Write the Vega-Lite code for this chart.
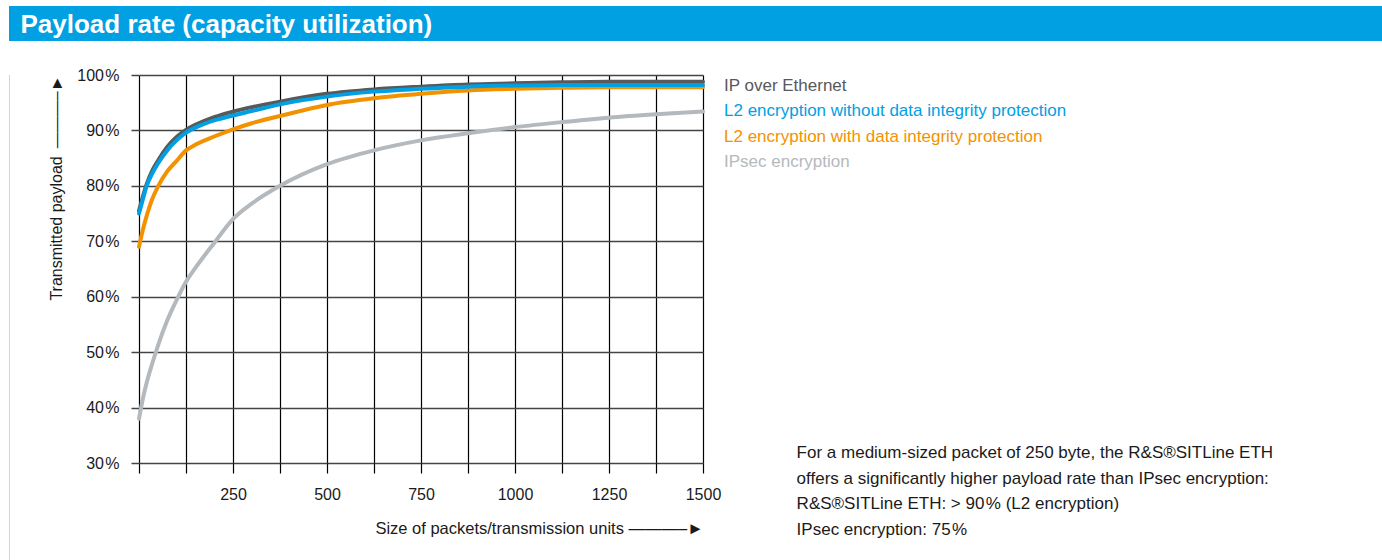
{
  "$schema": "https://vega.github.io/schema/vega-lite/v6.json",
  "padding": {"left": 9, "top": 6, "right": 0, "bottom": 0},
  "background": "white",
  "spacing": 26,
  "config": {
    "view": {"stroke": null},
    "font": "Liberation Sans"
  },
  "vconcat": [
    {
      "width": 1373,
      "height": 35,
      "data": {"values": [{"label": "Payload rate (capacity utilization)"}]},
      "layer": [
        {"mark": {"type": "rect", "color": "#00a0e3"}, "encoding": {}},
        {
          "mark": {"type": "text", "align": "left", "baseline": "middle", "dx": -675, "dy": 1, "font": "Liberation Sans", "fontWeight": "bold", "fontSize": 26, "color": "white"},
          "encoding": {"text": {"field": "label"}}
        }
      ]
    },
    {
      "spacing": 38,
      "hconcat": [
        {
          "width": 1,
          "height": 495,
          "data": {"values": [{"edge": "left"}]},
          "mark": {"type": "rect", "color": "#d3d7db"},
          "encoding": {}
        },
        {
          "width": 564,
          "height": 388,
          "layer": [
            {
              "data": {"values": [
                {"series": "IPsec encryption", "size": 0, "payload": 38.0},
                {"series": "IPsec encryption", "size": 10, "payload": 41.5},
                {"series": "IPsec encryption", "size": 20, "payload": 44.4},
                {"series": "IPsec encryption", "size": 35, "payload": 47.9},
                {"series": "IPsec encryption", "size": 50, "payload": 51.1},
                {"series": "IPsec encryption", "size": 75, "payload": 55.7},
                {"series": "IPsec encryption", "size": 100, "payload": 59.4},
                {"series": "IPsec encryption", "size": 125, "payload": 62.7},
                {"series": "IPsec encryption", "size": 150, "payload": 65.2},
                {"series": "IPsec encryption", "size": 200, "payload": 69.7},
                {"series": "IPsec encryption", "size": 250, "payload": 74.0},
                {"series": "IPsec encryption", "size": 300, "payload": 76.8},
                {"series": "IPsec encryption", "size": 375, "payload": 80.0},
                {"series": "IPsec encryption", "size": 500, "payload": 83.9},
                {"series": "IPsec encryption", "size": 625, "payload": 86.4},
                {"series": "IPsec encryption", "size": 750, "payload": 88.2},
                {"series": "IPsec encryption", "size": 875, "payload": 89.5},
                {"series": "IPsec encryption", "size": 1000, "payload": 90.6},
                {"series": "IPsec encryption", "size": 1125, "payload": 91.5},
                {"series": "IPsec encryption", "size": 1250, "payload": 92.3},
                {"series": "IPsec encryption", "size": 1375, "payload": 92.9},
                {"series": "IPsec encryption", "size": 1500, "payload": 93.4},
                {"series": "L2 encryption with data integrity protection", "size": 0, "payload": 69.0},
                {"series": "L2 encryption with data integrity protection", "size": 10, "payload": 72.0},
                {"series": "L2 encryption with data integrity protection", "size": 20, "payload": 74.5},
                {"series": "L2 encryption with data integrity protection", "size": 35, "payload": 77.6},
                {"series": "L2 encryption with data integrity protection", "size": 50, "payload": 79.8},
                {"series": "L2 encryption with data integrity protection", "size": 75, "payload": 82.6},
                {"series": "L2 encryption with data integrity protection", "size": 100, "payload": 84.5},
                {"series": "L2 encryption with data integrity protection", "size": 125, "payload": 86.4},
                {"series": "L2 encryption with data integrity protection", "size": 144, "payload": 87.2},
                {"series": "L2 encryption with data integrity protection", "size": 200, "payload": 88.9},
                {"series": "L2 encryption with data integrity protection", "size": 250, "payload": 90.2},
                {"series": "L2 encryption with data integrity protection", "size": 300, "payload": 91.3},
                {"series": "L2 encryption with data integrity protection", "size": 375, "payload": 92.6},
                {"series": "L2 encryption with data integrity protection", "size": 500, "payload": 94.6},
                {"series": "L2 encryption with data integrity protection", "size": 625, "payload": 95.8},
                {"series": "L2 encryption with data integrity protection", "size": 750, "payload": 96.6},
                {"series": "L2 encryption with data integrity protection", "size": 875, "payload": 97.2},
                {"series": "L2 encryption with data integrity protection", "size": 1000, "payload": 97.5},
                {"series": "L2 encryption with data integrity protection", "size": 1125, "payload": 97.7},
                {"series": "L2 encryption with data integrity protection", "size": 1250, "payload": 97.8},
                {"series": "L2 encryption with data integrity protection", "size": 1375, "payload": 97.8},
                {"series": "L2 encryption with data integrity protection", "size": 1500, "payload": 97.8},
                {"series": "IP over Ethernet", "size": 0, "payload": 75.5},
                {"series": "IP over Ethernet", "size": 10, "payload": 78.0},
                {"series": "IP over Ethernet", "size": 20, "payload": 80.2},
                {"series": "IP over Ethernet", "size": 35, "payload": 82.7},
                {"series": "IP over Ethernet", "size": 50, "payload": 84.5},
                {"series": "IP over Ethernet", "size": 75, "payload": 87.0},
                {"series": "IP over Ethernet", "size": 100, "payload": 88.8},
                {"series": "IP over Ethernet", "size": 125, "payload": 90.1},
                {"series": "IP over Ethernet", "size": 150, "payload": 91.0},
                {"series": "IP over Ethernet", "size": 200, "payload": 92.4},
                {"series": "IP over Ethernet", "size": 250, "payload": 93.4},
                {"series": "IP over Ethernet", "size": 300, "payload": 94.2},
                {"series": "IP over Ethernet", "size": 375, "payload": 95.2},
                {"series": "IP over Ethernet", "size": 500, "payload": 96.6},
                {"series": "IP over Ethernet", "size": 625, "payload": 97.4},
                {"series": "IP over Ethernet", "size": 750, "payload": 97.9},
                {"series": "IP over Ethernet", "size": 875, "payload": 98.3},
                {"series": "IP over Ethernet", "size": 1000, "payload": 98.5},
                {"series": "IP over Ethernet", "size": 1125, "payload": 98.7},
                {"series": "IP over Ethernet", "size": 1250, "payload": 98.8},
                {"series": "IP over Ethernet", "size": 1375, "payload": 98.8},
                {"series": "IP over Ethernet", "size": 1500, "payload": 98.8},
                {"series": "L2 encryption without data integrity protection", "size": 0, "payload": 75.0},
                {"series": "L2 encryption without data integrity protection", "size": 10, "payload": 77.5},
                {"series": "L2 encryption without data integrity protection", "size": 20, "payload": 79.9},
                {"series": "L2 encryption without data integrity protection", "size": 35, "payload": 82.2},
                {"series": "L2 encryption without data integrity protection", "size": 50, "payload": 84.0},
                {"series": "L2 encryption without data integrity protection", "size": 75, "payload": 86.4},
                {"series": "L2 encryption without data integrity protection", "size": 100, "payload": 88.2},
                {"series": "L2 encryption without data integrity protection", "size": 125, "payload": 89.6},
                {"series": "L2 encryption without data integrity protection", "size": 150, "payload": 90.5},
                {"series": "L2 encryption without data integrity protection", "size": 200, "payload": 91.8},
                {"series": "L2 encryption without data integrity protection", "size": 250, "payload": 92.7},
                {"series": "L2 encryption without data integrity protection", "size": 300, "payload": 93.5},
                {"series": "L2 encryption without data integrity protection", "size": 375, "payload": 94.7},
                {"series": "L2 encryption without data integrity protection", "size": 500, "payload": 96.1},
                {"series": "L2 encryption without data integrity protection", "size": 625, "payload": 97.0},
                {"series": "L2 encryption without data integrity protection", "size": 750, "payload": 97.5},
                {"series": "L2 encryption without data integrity protection", "size": 875, "payload": 97.9},
                {"series": "L2 encryption without data integrity protection", "size": 1000, "payload": 98.1},
                {"series": "L2 encryption without data integrity protection", "size": 1125, "payload": 98.2},
                {"series": "L2 encryption without data integrity protection", "size": 1250, "payload": 98.2},
                {"series": "L2 encryption without data integrity protection", "size": 1375, "payload": 98.2},
                {"series": "L2 encryption without data integrity protection", "size": 1500, "payload": 98.2}
              ]},
              "mark": {"type": "line", "strokeWidth": 4, "interpolate": "monotone", "strokeCap": "round"},
              "encoding": {
                "x": {
                  "field": "size", "type": "quantitative",
                  "scale": {"domain": [0, 1500], "nice": false, "zero": false},
                  "axis": {
                    "values": [0, 125, 250, 375, 500, 625, 750, 875, 1000, 1125, 1250, 1375, 1500],
                    "format": "d",
                    "labelExpr": "datum.value > 0 && datum.value % 250 == 0 ? datum.label : ''",
                    "labelFlush": false, "labelOverlap": false, "labelBound": false,
                    "grid": true, "gridColor": "#000000", "gridWidth": 1.2,
                    "domain": false,
                    "ticks": true, "tickSize": 10, "tickColor": "#000000", "tickWidth": 1.2,
                    "labelPadding": 13, "labelFontSize": 16, "labelColor": "#1a1a1a",
                    "title": "Size of packets/transmission units \u2014\u2014\u2014\u2013\u25ba",
                    "titleFontSize": 16.5, "titleFontWeight": "normal", "titleColor": "#1a1a1a",
                    "titleAnchor": "end", "titlePadding": 18
                  }
                },
                "y": {
                  "field": "payload", "type": "quantitative",
                  "scale": {"domain": [30, 100], "nice": false, "zero": false},
                  "axis": {
                    "values": [30, 40, 50, 60, 70, 80, 90, 100],
                    "labelExpr": "datum.value + '\u200a%'",
                    "grid": true, "gridColor": "#444444", "gridWidth": 1.5,
                    "domain": false,
                    "ticks": true, "tickSize": 8, "tickColor": "#444444", "tickWidth": 1.5,
                    "labelPadding": 12, "labelFontSize": 16, "labelColor": "#1a1a1a",
                    "title": "Transmitted payload\u2002\u2014\u2014\u2014\u2013\u25ba",
                    "titleFontSize": 16, "titleFontWeight": "normal", "titleColor": "#1a1a1a",
                    "titleAnchor": "end", "titlePadding": 12
                  }
                },
                "color": {
                  "field": "series", "type": "nominal",
                  "scale": {
                    "domain": ["IP over Ethernet", "L2 encryption without data integrity protection", "L2 encryption with data integrity protection", "IPsec encryption"],
                    "range": ["#58595b", "#00a0e3", "#f39200", "#b4b9bd"]
                  },
                  "legend": {
                    "orient": "none", "legendX": 698, "legendY": 71,
                    "title": null, "padding": 0,
                    "symbolSize": 0, "symbolOpacity": 0, "symbolStrokeWidth": 0,
                    "labelOffset": 0, "labelFontSize": 17, "labelLimit": 600,
                    "rowPadding": 7.5,
                    "encode": {"labels": {"update": {"fill": {"scale": "color", "field": "value"}}}}
                  }
                }
              }
            },
            {
              "data": {"values": [{"note": [
                "For a medium-sized packet of 250 byte, the R&S\u00aeSITLine ETH",
                "offers a significantly higher payload rate than IPsec encryption:",
                "R&S\u00aeSITLine ETH: > 90\u200a% (L2 encryption)",
                "IPsec encryption: 75\u200a%"
              ]}]},
              "mark": {"type": "text", "align": "left", "baseline": "top", "fontSize": 17, "lineHeight": 25.6, "color": "#1a1a1a"},
              "encoding": {
                "x": {"datum": 1749, "type": "quantitative", "scale": {"domain": [0, 1500], "nice": false, "zero": false}},
                "y": {"datum": 33.25, "type": "quantitative", "scale": {"domain": [30, 100], "nice": false, "zero": false}},
                "text": {"field": "note"}
              }
            }
          ]
        }
      ]
    }
  ]
}
